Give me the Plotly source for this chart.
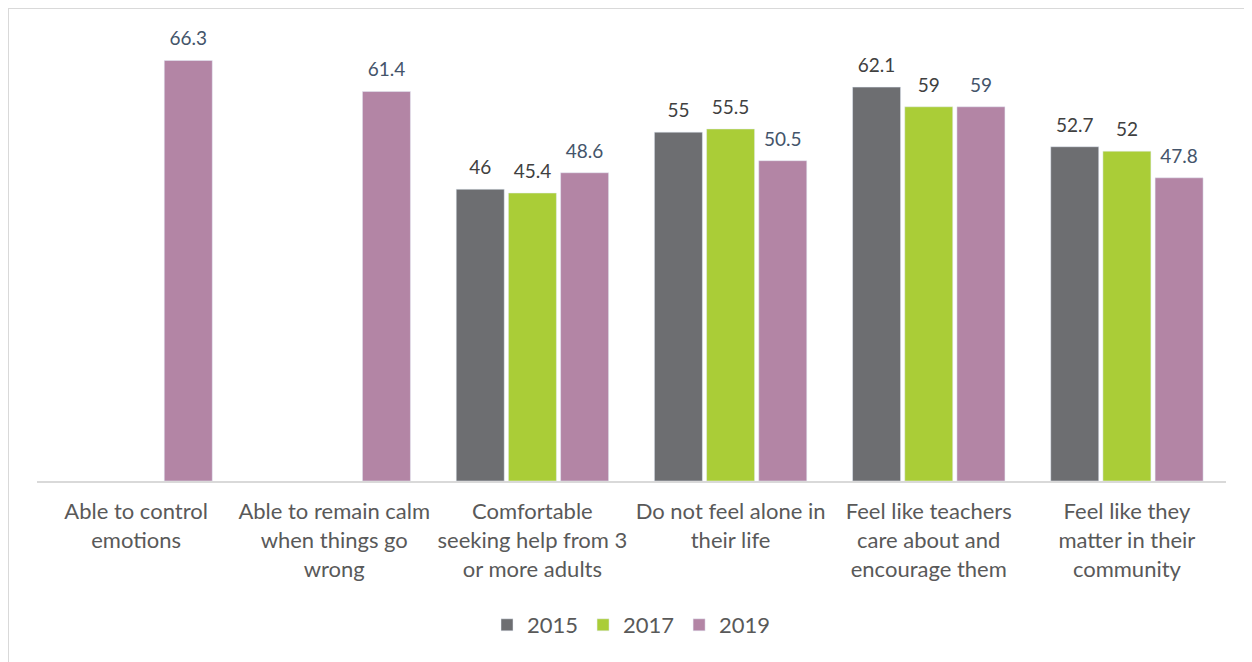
import plotly.graph_objects as go

categories = [
    "Able to control<br>emotions",
    "Able to remain calm<br>when things go<br>wrong",
    "Comfortable<br>seeking help from 3<br>or more adults",
    "Do not feel alone in<br>their life",
    "Feel like teachers<br>care about and<br>encourage them",
    "Feel like they<br>matter in their<br>community",
]
years = ["2015", "2017", "2019"]
v2015 = [None, None, 46, 55, 62.1, 52.7]
v2017 = [None, None, 45.4, 55.5, 59, 52]
v2019 = [66.3, 61.4, 48.6, 50.5, 59, 47.8]

colors = ["#6D6E71", "#AACD37", "#B385A5"]
label_colors = ["#404040", "#404040", "#44546A"]
FONT = "Lato"

L, T, R, B = 29, 29, 34, 189
PW = 1252 - L - R
PH = 662 - T - B

fig = go.Figure()
for name, vals, c in zip(years, [v2015, v2017, v2019], colors):
    fig.add_trace(go.Bar(
        x=categories, y=vals, name=name, marker_color=c,
        offsetgroup=name, hoverinfo="skip",
    ))
for name, vals, lc in zip(years, [v2015, v2017, v2019], label_colors):
    fig.add_trace(go.Scatter(
        x=categories, y=vals, mode="markers+text", offsetgroup=name,
        text=[("" if v is None else f"{v:g}") for v in vals],
        textposition="top center", cliponaxis=False, showlegend=False,
        marker=dict(size=15, opacity=0), hoverinfo="skip",
        textfont=dict(size=19, color=lc, family=FONT),
    ))

fig.update_layout(
    width=1252, height=662,
    barmode="group", bargap=0.21, bargroupgap=0.08,
    scattermode="group", scattergap=0.21,
    plot_bgcolor="white", paper_bgcolor="white",
    margin=dict(l=L, r=R, t=T, b=B),
    font=dict(family=FONT, color="#595959"),
    xaxis=dict(showline=True, linecolor="#D9D9D9", linewidth=2, ticks="",
               ticklabelstandoff=10,
               tickfont=dict(size=22, color="#595959", family=FONT)),
    yaxis=dict(range=[0, 70], visible=False, showgrid=False),
    legend=dict(orientation="h", x=0.5, xanchor="center", y=(PH - 617 + T) / PH, yanchor="middle",
                font=dict(size=22, color="#595959", family=FONT), traceorder="normal"),
    showlegend=True,
    shapes=[dict(type="rect", xref="paper", yref="paper",
                 x0=(0 - L) / PW, x1=1.2, y0=-1.0, y1=(PH + T) / PH,
                 line=dict(color="#D9D9D9", width=2), fillcolor="rgba(0,0,0,0)", layer="below")],
)

fig.write_html("out.html")
